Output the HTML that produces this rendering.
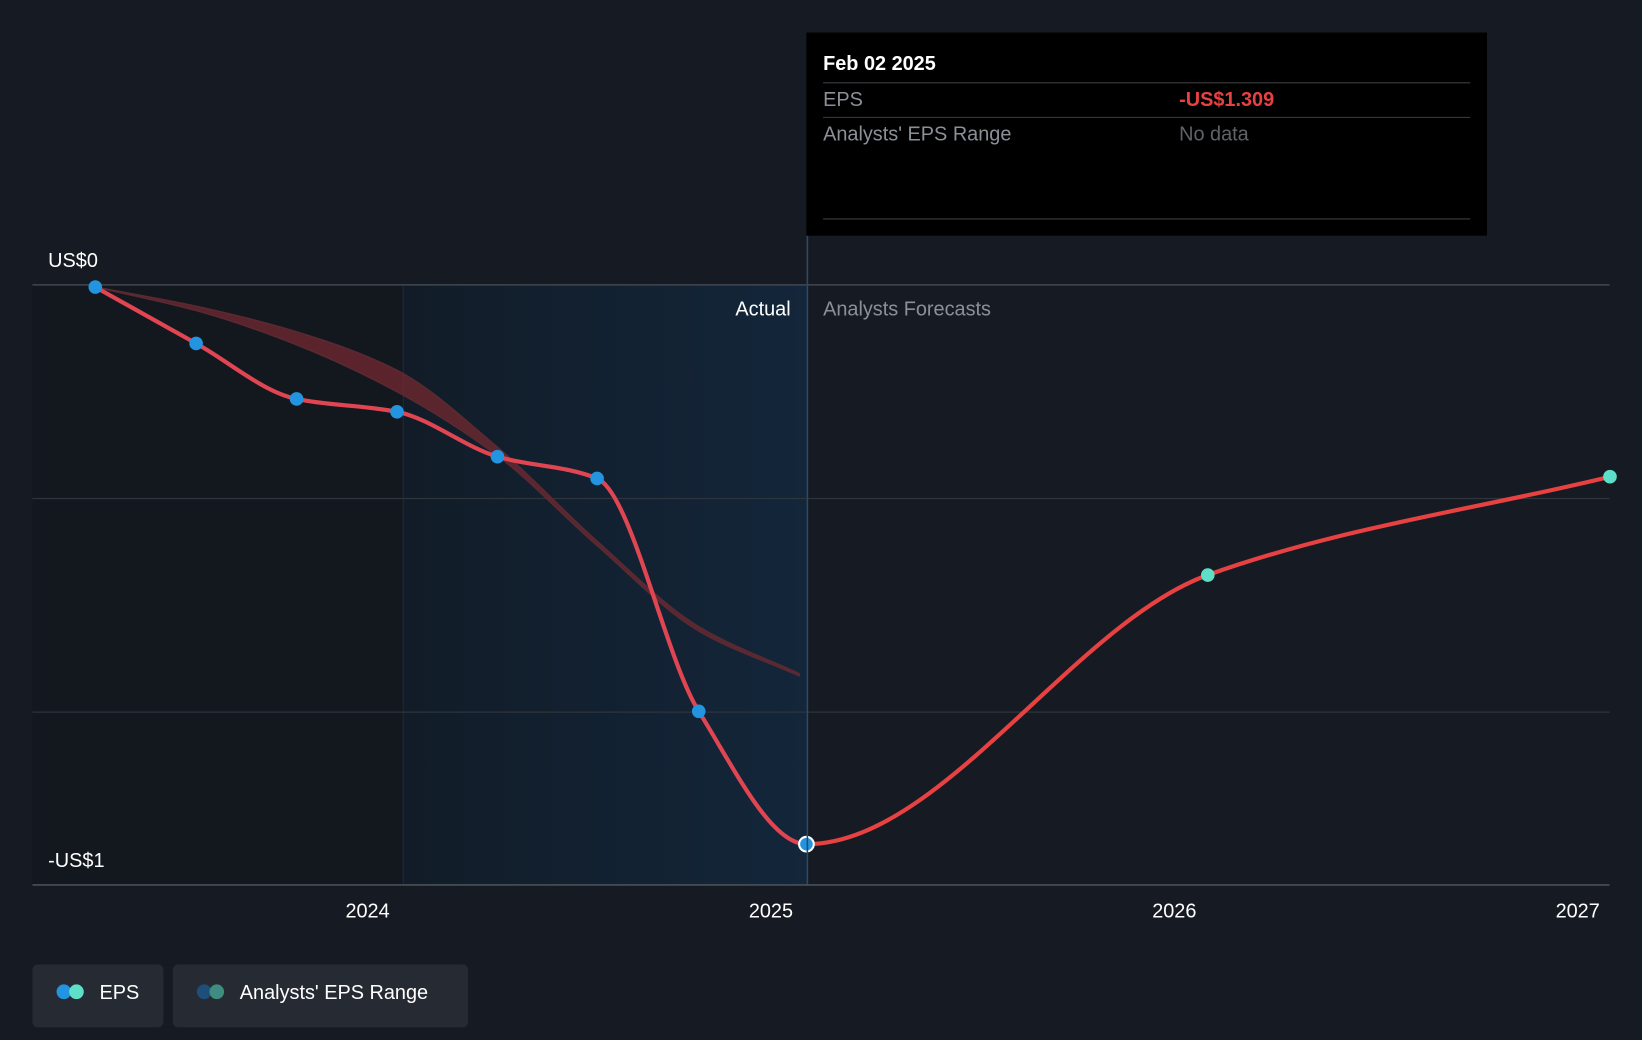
<!DOCTYPE html>
<html><head><meta charset="utf-8"><style>
html,body{margin:0;padding:0;background:#161b23;}
svg{display:block;font-family:"Liberation Sans",sans-serif;}
</style></head><body>
<svg width="1642" height="1040" viewBox="0 0 1568 993" xmlns="http://www.w3.org/2000/svg">
<defs><linearGradient id="actg" x1="0" x2="1" y1="0" y2="0"><stop offset="0" stop-color="#121c28"/><stop offset="1" stop-color="#13263a"/></linearGradient></defs>
<rect x="0" y="0" width="1568" height="993" fill="#161b23"/>
<rect x="31" y="272" width="354" height="573" fill="#13171e"/>
<rect x="385" y="272" width="386" height="573" fill="url(#actg)"/>
<line x1="385" y1="272" x2="385" y2="845" stroke="#1e2a38" stroke-width="1"/>
<g id="grid"></g>
<g id="band"></g>
<g id="lines"></g>
<g id="dots"></g>
<line x1="771" y1="225" x2="771" y2="845" stroke="#2c4a66" stroke-width="1.5"/>
<text x="755" y="301" fill="#ffffff" font-size="19" text-anchor="end">Actual</text>
<text x="786" y="301" fill="#8b9096" font-size="19">Analysts Forecasts</text>
<g id="axis"></g>
<g>
<rect x="770" y="31" width="650" height="194" fill="#000000"/>
<text x="786" y="67" fill="#ffffff" font-size="19" font-weight="bold">Feb 02 2025</text>
<line x1="786" y1="79" x2="1404" y2="79" stroke="#3a3d42"/>
<text x="786" y="101" fill="#8b9096" font-size="19">EPS</text>
<text x="1126" y="101" fill="#e84142" font-size="19" font-weight="bold">-US$1.309</text>
<line x1="786" y1="112" x2="1404" y2="112" stroke="#3a3d42"/>
<text x="786" y="134" fill="#8b9096" font-size="19">Analysts' EPS Range</text>
<text x="1126" y="134" fill="#5f6368" font-size="19">No data</text>
<line x1="786" y1="209" x2="1404" y2="209" stroke="#3a3d42"/>
</g>
<g>
<rect x="31" y="921" width="125" height="60" rx="5" fill="#262b33"/>
<circle cx="61" cy="947" r="7" fill="#2394df"/><circle cx="73" cy="947" r="7" fill="#5ee0c8"/>
<text x="95" y="954" fill="#ffffff" font-size="19">EPS</text>
</g>
<g>
<rect x="165" y="921" width="282" height="60" rx="5" fill="#262b33"/>
<circle cx="195" cy="947" r="7" fill="#1d4f7a"/><circle cx="207" cy="947" r="7" fill="#3f8c80"/>
<text x="229" y="954" fill="#ffffff" font-size="19">Analysts' EPS Range</text>
</g>
</svg>
<script>
const actualDates=[2023.325,2023.575,2023.824,2024.073,2024.322,2024.569,2024.821,2025.088];
const actualEps=[-0.005,-0.137,-0.267,-0.297,-0.402,-0.453,-0.998,-1.309];
const forecastDates=[2025.088,2026.083,2027.08];
const forecastEps=[-1.309,-0.679,-0.449];
const bandDates=[2023.325,2023.575,2023.824,2024.073,2024.322,2024.569,2024.821,2025.07];
const bandHigh=[-0.005,-0.05,-0.11,-0.2,-0.38,-0.6,-0.8,-0.91];
const bandLow=[-0.005,-0.06,-0.14,-0.25,-0.4,-0.61,-0.81,-0.915];
const yTicks=[0,-0.5,-1];
const xTicks=[2024,2025,2026,2027];
const NS="http://www.w3.org/2000/svg";
function X(t){return 351+(t-2024)*385.2;}
function Y(v){return 272-v*408;}
function mk(tag,attrs,parent){const e=document.createElementNS(NS,tag);for(const k in attrs)e.setAttribute(k,attrs[k]);parent.appendChild(e);return e;}
function mono(pts,m0,mN){const n=pts.length;const d=[],m=[];for(let i=0;i<n-1;i++)d.push((pts[i+1][1]-pts[i][1])/(pts[i+1][0]-pts[i][0]));
m[0]=m0!==undefined?m0:d[0];m[n-1]=mN!==undefined?mN:d[n-2];
for(let i=1;i<n-1;i++){m[i]=(d[i-1]*d[i]<=0)?0:2/(1/d[i-1]+1/d[i]);}
let s="M"+pts[0][0]+","+pts[0][1];
for(let i=0;i<n-1;i++){const h=pts[i+1][0]-pts[i][0];s+=" C"+(pts[i][0]+h/3)+","+(pts[i][1]+m[i]*h/3)+" "+(pts[i+1][0]-h/3)+","+(pts[i+1][1]-m[i+1]*h/3)+" "+pts[i+1][0]+","+pts[i+1][1];}
return s;}
const grid=document.getElementById('grid');
yTicks.forEach(v=>{const l=mk('line',{x1:31,x2:1537,y1:Y(v),y2:Y(v),stroke:v===0?'#4a5058':'#2e343c','stroke-width':1.2},grid);

});
const axis=document.getElementById('axis');
const base=mk('line',{x1:31,x2:1537,y1:845,y2:845,stroke:'#4a5058','stroke-width':1.5},axis);


const y0=mk('text',{x:46,y:Y(0)-17,fill:'#fff','font-size':19},axis);y0.textContent='US$0';


const y1=mk('text',{x:46,y:828,fill:'#fff','font-size':19},axis);y1.textContent='-US$1';


xTicks.forEach(t=>{const tx=mk('text',{x:X(t),y:876,fill:'#fff','font-size':19,'text-anchor':'middle'},axis);tx.textContent=t;

});
const bandG=document.getElementById('band');
const up=bandDates.map((t,i)=>[X(t),Y(bandHigh[i])]);
const lo=bandDates.map((t,i)=>[X(t),Y(bandLow[i])]).reverse();
const loPath=mono(lo.slice().reverse());
const bp=mk('path',{d:mono(up)+" L"+up[up.length-1][0]+","+lo[0][1],fill:'none'},bandG);
const bandPath=mk('path',{d:mono(up)+" L"+lo[0][0]+","+lo[0][1]+" "+mono(lo).slice(1).replace(/^[^C]*/,'')+" Z",fill:'#7a2a30','fill-opacity':0.7,stroke:'#5a2a32','stroke-width':1.5},bandG);


const lines=document.getElementById('lines');
const a=mk('path',{d:mono(actualDates.map((t,i)=>[X(t),Y(actualEps[i])]),undefined,0),fill:'none',stroke:'#e04552','stroke-width':4},lines);


const f=mk('path',{d:mono(forecastDates.map((t,i)=>[X(t),Y(forecastEps[i])]),0),fill:'none',stroke:'#e84142','stroke-width':4},lines);


const dots=document.getElementById('dots');
actualDates.forEach((t,i)=>{const last=i===actualDates.length-1;const c=mk('circle',{cx:X(t),cy:Y(actualEps[i]),r:last?7:6.5,fill:'#2394df',stroke:last?'#fff':'none','stroke-width':2},dots);

});
forecastDates.slice(1).forEach((t,i)=>{const c=mk('circle',{cx:X(t),cy:Y(forecastEps[i+1]),r:6.5,fill:'#5ee0c8'},dots);

});
</script>
</body></html>
